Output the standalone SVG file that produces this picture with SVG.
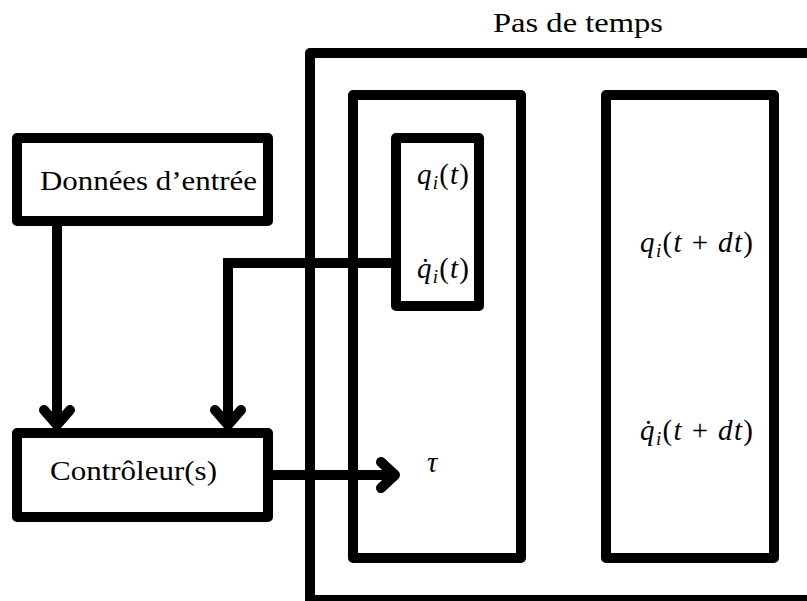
<svg xmlns="http://www.w3.org/2000/svg" width="807" height="601" viewBox="0 0 807 601">
<style>
.box{fill:none;stroke:#000;stroke-width:10;stroke-linejoin:round}
.wire{fill:none;stroke:#000;stroke-width:10;stroke-linejoin:miter}
.head{fill:none;stroke:#000;stroke-width:10;stroke-linecap:round;stroke-linejoin:round}
text{font-family:"Liberation Serif","DejaVu Serif",serif;font-size:27px;fill:#000}
.mt{font-size:29px}
.m{font-style:italic}
.sub{font-style:italic;font-size:19px}
</style>
<rect width="807" height="601" fill="#fff"/>
<g id="pas-de-temps">
<rect class="box" x="310" y="53" width="600" height="547"/>
<text x="493" y="32" textLength="170" lengthAdjust="spacingAndGlyphs">Pas de temps</text>
</g>
<g id="etat-t">
<rect class="box" x="353" y="95" width="168" height="463"/>
</g>
<g id="etat-t-dt">
<rect class="box" x="606" y="95" width="168" height="463"/>
<text class="mt" x="640" y="252" textLength="113" lengthAdjust="spacing"><tspan class="m">q</tspan><tspan class="sub" dy="5">i</tspan><tspan dy="-5">(</tspan><tspan class="m">t</tspan> + <tspan class="m">dt</tspan>)</text>
<text class="mt" x="640" y="440" textLength="113" lengthAdjust="spacing"><tspan class="m">q̇</tspan><tspan class="sub" dy="5">i</tspan><tspan dy="-5">(</tspan><tspan class="m">t</tspan> + <tspan class="m">dt</tspan>)</text>
</g>
<g id="q-box">
<rect class="box" x="396" y="138" width="83" height="168"/>
<text class="mt" x="417" y="184" textLength="52" lengthAdjust="spacing"><tspan class="m">q</tspan><tspan class="sub" dy="5">i</tspan><tspan dy="-5">(</tspan><tspan class="m">t</tspan>)</text>
<text class="mt" x="417" y="278" textLength="52" lengthAdjust="spacing"><tspan class="m">q̇</tspan><tspan class="sub" dy="5">i</tspan><tspan dy="-5">(</tspan><tspan class="m">t</tspan>)</text>
</g>
<g id="donnees">
<rect class="box" x="17" y="138" width="251" height="83"/>
<text x="40" y="190" textLength="217" lengthAdjust="spacingAndGlyphs">Données d’entrée</text>
</g>
<g id="controleur">
<rect class="box" x="17" y="433" width="251" height="84"/>
<text x="50" y="480" textLength="167" lengthAdjust="spacingAndGlyphs">Contrôleur(s)</text>
</g>
<g id="tau">
<text class="m mt" x="427" y="472">τ</text>
</g>
<g id="connectors">
<path class="wire" d="M57 226 V423"/>
<path class="head" d="M44 410 L57 425 L70 410"/>
<path class="wire" d="M396 263 H228 V423"/>
<path class="head" d="M215 410 L228 425 L241 410"/>
<path class="wire" d="M273 475 H393"/>
<path class="head" d="M381 462 L395 475 L381 488"/>
</g>
</svg>
